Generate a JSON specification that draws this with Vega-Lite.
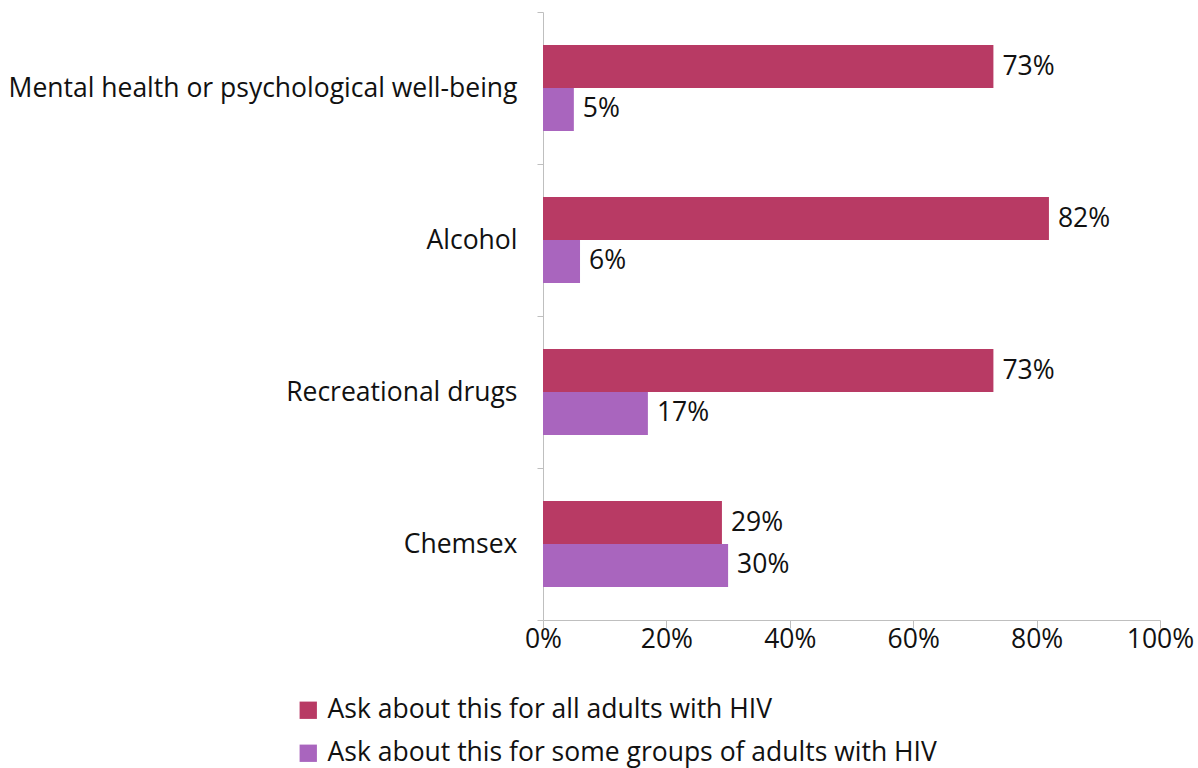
{
  "$schema": "https://vega.github.io/schema/vega-lite/v6.json",
  "width": 617,
  "height": 608,
  "autosize": {"type": "none"},
  "padding": {"left": 543, "top": 12, "right": 38, "bottom": 148},
  "background": "white",
  "data": {
    "values": [
      {"topic": "Mental health or psychological well-being", "series": "Ask about this for all adults with HIV", "value": 73},
      {"topic": "Mental health or psychological well-being", "series": "Ask about this for some groups of adults with HIV", "value": 5},
      {"topic": "Alcohol", "series": "Ask about this for all adults with HIV", "value": 82},
      {"topic": "Alcohol", "series": "Ask about this for some groups of adults with HIV", "value": 6},
      {"topic": "Recreational drugs", "series": "Ask about this for all adults with HIV", "value": 73},
      {"topic": "Recreational drugs", "series": "Ask about this for some groups of adults with HIV", "value": 17},
      {"topic": "Chemsex", "series": "Ask about this for all adults with HIV", "value": 29},
      {"topic": "Chemsex", "series": "Ask about this for some groups of adults with HIV", "value": 30}
    ]
  },
  "config": {
    "font": "Open Sans",
    "view": {"stroke": null},
    "axis": {"domainColor": "#bfbfbf", "tickColor": "#bfbfbf", "labelColor": "#111111", "labelFont": "Open Sans", "grid": false}
  },
  "encoding": {
    "y": {
      "field": "topic",
      "type": "nominal",
      "sort": ["Mental health or psychological well-being", "Alcohol", "Recreational drugs", "Chemsex"],
      "scale": {"paddingInner": 0, "paddingOuter": 0},
      "axis": {"title": null, "tickBand": "extent", "tickSize": 6, "labelPadding": 20, "labelFontSize": 26.5, "labelLimit": 600}
    },
    "yOffset": {
      "field": "series",
      "type": "nominal",
      "scale": {"paddingInner": 0, "paddingOuter": 0.77}
    },
    "x": {
      "field": "value",
      "type": "quantitative",
      "scale": {"domain": [0, 100]},
      "axis": {"title": null, "values": [0, 20, 40, 60, 80, 100], "labelExpr": "datum.value + '%'", "tickSize": 8, "labelPadding": -2, "labelFontSize": 26.5, "labelFlush": false}
    }
  },
  "layer": [
    {
      "mark": {"type": "bar"},
      "encoding": {
        "color": {
          "field": "series",
          "type": "nominal",
          "scale": {"range": ["#b83a64", "#a965be"]},
          "legend": {
            "title": null,
            "orient": "none",
            "legendX": -248,
            "legendY": 685,
            "symbolType": "square",
            "symbolSize": 300,
            "symbolStrokeWidth": 0,
            "labelFont": "Open Sans",
            "labelFontSize": 26.5,
            "labelColor": "#111111",
            "labelLimit": 900,
            "rowPadding": 16,
            "labelOffset": 6
          }
        }
      }
    },
    {
      "mark": {"type": "text", "align": "left", "baseline": "middle", "dx": 9, "fontSize": 26.5, "color": "#111111", "text": {"expr": "datum.value + '%'"}},
      "encoding": {
        "detail": {"field": "series"}
      }
    }
  ]
}
